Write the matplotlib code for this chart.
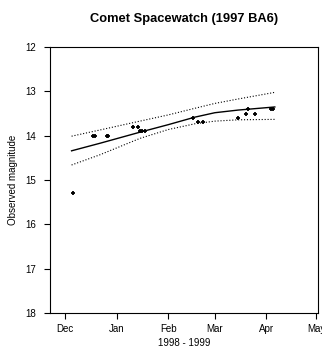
import datetime as dt
import matplotlib
matplotlib.use("Agg")
import matplotlib.pyplot as plt
import matplotlib.dates as mdates

plt.rcParams['font.family'] = ['Liberation Sans', 'DejaVu Sans']

# observations (date, magnitude)
obs_dates = [dt.date(1998, 12, 6), dt.date(1998, 12, 18), dt.date(1998, 12, 19),
             dt.date(1998, 12, 26), dt.date(1998, 12, 27),
             dt.date(1999, 1, 11), dt.date(1999, 1, 14), dt.date(1999, 1, 15),
             dt.date(1999, 1, 16), dt.date(1999, 1, 18),
             dt.date(1999, 2, 16), dt.date(1999, 2, 19), dt.date(1999, 2, 22),
             dt.date(1999, 3, 15), dt.date(1999, 3, 20), dt.date(1999, 3, 21),
             dt.date(1999, 3, 25), dt.date(1999, 4, 4), dt.date(1999, 4, 5)]
obs_mag = [15.3, 14.0, 14.0, 14.0, 14.0,
           13.8, 13.8, 13.9, 13.9, 13.9,
           13.6, 13.7, 13.7,
           13.6, 13.5, 13.4, 13.5, 13.4, 13.4]

# fitted curve and limits
fit_dates = [dt.date(1998, 12, 5), dt.date(1998, 12, 22), dt.date(1999, 1, 15),
             dt.date(1999, 2, 1), dt.date(1999, 2, 17), dt.date(1999, 3, 1),
             dt.date(1999, 3, 15), dt.date(1999, 4, 6)]
fit_mid = [14.34, 14.17, 13.92, 13.75, 13.58, 13.48, 13.42, 13.35]
fit_hi = [14.01, 13.87, 13.67, 13.53, 13.38, 13.27, 13.17, 13.02]
fit_lo = [14.66, 14.43, 14.06, 13.86, 13.73, 13.67, 13.64, 13.63]

fig = plt.figure(figsize=(3.22, 3.52), dpi=100)
ax = fig.add_axes([0.155, 0.111, 0.833, 0.755])

ax.plot(fit_dates, fit_mid, 'k-', lw=1.0)
ax.plot(fit_dates, fit_hi, 'k:', lw=0.8)
ax.plot(fit_dates, fit_lo, 'k:', lw=0.8)
ax.plot(obs_dates, obs_mag, 'k+', ms=3.5, mew=1.3, ls='none')

ax.set_ylim(18, 12)
ax.set_yticks([12, 13, 14, 15, 16, 17, 18])
ax.set_xlim(dt.date(1998, 11, 22), dt.date(1999, 5, 2))
ax.xaxis.set_major_locator(mdates.MonthLocator())
ax.xaxis.set_major_formatter(mdates.DateFormatter('%b'))

ax.tick_params(direction='out', length=4, width=0.8, labelsize=7)
ax.tick_params(axis='x', pad=4)
ax.tick_params(axis='y', pad=6)
for s in ax.spines.values():
    s.set_linewidth(0.8)

ax.set_xlabel('1998 - 1999', fontsize=7, labelpad=3)
ax.set_ylabel('Observed magnitude', fontsize=7, labelpad=5)
ax.set_title('Comet Spacewatch (1997 BA6)', fontsize=9.3, fontweight='bold', pad=18)

fig.savefig('out.png', dpi=100)
